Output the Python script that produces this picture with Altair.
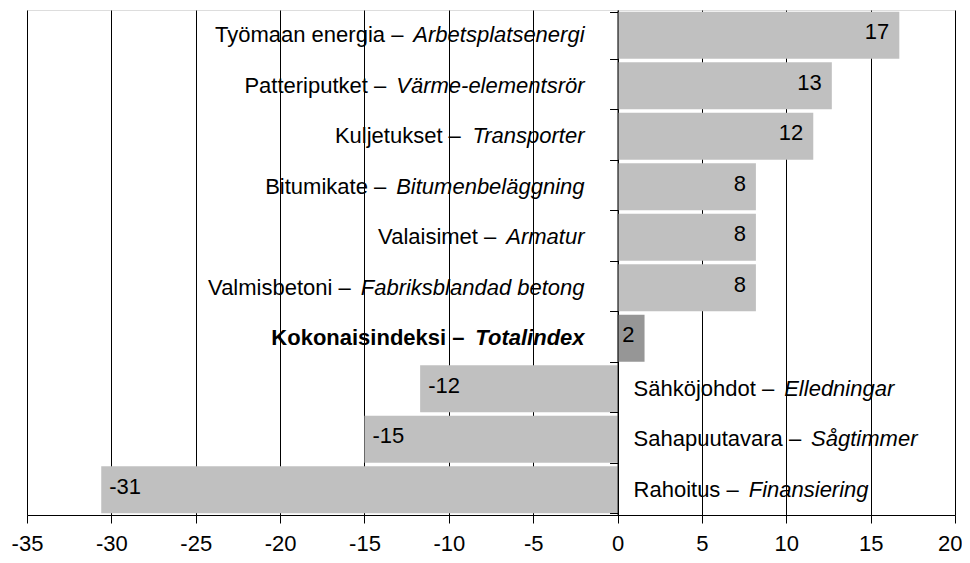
import altair as alt
import pandas as pd

# ---- data ----
fin = ["Työmaan energia", "Patteriputket", "Kuljetukset", "Bitumikate", "Valaisimet",
       "Valmisbetoni", "Kokonaisindeksi", "Sähköjohdot", "Sahapuutavara", "Rahoitus"]
swe = ["Arbetsplatsenergi", "Värme-elementsrör", "Transporter", "Bitumenbeläggning", "Armatur",
       "Fabriksblandad betong", "Totalindex", "Elledningar", "Sågtimmer", "Finansiering"]
values = [16.7, 12.7, 11.6, 8.2, 8.2, 8.2, 1.6, -11.7, -15.0, -30.6]
x_ticks = [-35, -30, -25, -20, -15, -10, -5, 0, 5, 10, 15, 20]

FS = 22
FONT = "Liberation Sans"
W, H = 928, 505

# Arial / Liberation Sans advance widths (1/1000 em) for measuring labels
REG = {" ": 278, "-": 333, "–": 556,
       "A": 667, "B": 667, "E": 667, "F": 611, "K": 667, "P": 667, "R": 722, "S": 667, "T": 611, "V": 667,
       "a": 556, "b": 556, "c": 500, "d": 556, "e": 556, "f": 278, "g": 556, "h": 556, "i": 222, "j": 222,
       "k": 500, "l": 222, "m": 833, "n": 556, "o": 556, "p": 556, "q": 556, "r": 333, "s": 500, "t": 278,
       "u": 556, "v": 500, "w": 722, "x": 500, "y": 500, "z": 500, "ä": 556, "ö": 556, "å": 556}
BOLD = dict(REG)
BOLD.update({"K": 722, "T": 611, "a": 556, "b": 611, "c": 556, "d": 611, "e": 556, "f": 333, "g": 611,
             "h": 611, "i": 278, "j": 278, "k": 556, "l": 278, "m": 889, "n": 611, "o": 611, "p": 611,
             "q": 611, "r": 389, "s": 556, "t": 333, "u": 611, "v": 556, "w": 778, "x": 556, "y": 556,
             "z": 500})


def tw(s, bold=False):
    t = BOLD if bold else REG
    return sum(t.get(c, 556) for c in s) * FS / 1000.0


LEFT_ANCHOR = -33   # px from zero line for labels of positive bars (right aligned)
RIGHT_ANCHOR = 16   # px from zero line for labels of negative bars (left aligned)
GAP = 10

rows = []
for f, s, v in zip(fin, swe, values):
    bold = f == "Kokonaisindeksi"
    p1 = f + " –"
    if v >= 0:
        off_swe = LEFT_ANCHOR
        off_fin = LEFT_ANCHOR - tw(s, bold) - GAP
        al = "right"
    else:
        off_fin = RIGHT_ANCHOR
        off_swe = RIGHT_ANCHOR + tw(p1, bold) + GAP
        al = "left"
    rows.append(dict(cat=f, part1=p1, swe=s, value=v, bold=bold,
                     kind="total" if bold else "item",
                     off_fin=off_fin, off_swe=off_swe, al=al))
df = pd.DataFrame(rows)

yenc = alt.Y("cat:N", sort=fin,
             scale=alt.Scale(paddingInner=0.07, paddingOuter=0.035),
             axis=alt.Axis(title=None, labels=False, grid=False, orient="left",
                           offset=-(W * 35 / 55), domainColor="#000000", domainWidth=1,
                           tickColor="#000000", tickSize=8, tickBand="extent", zindex=2))
xscale = alt.Scale(domain=[-35, 20], nice=False, zero=False)

base = alt.Chart(df)

bars = base.mark_bar(strokeWidth=0).encode(
    x=alt.X("value:Q", scale=xscale,
            axis=alt.Axis(title=None, values=x_ticks, grid=True, gridColor="#000000", gridWidth=1,
                          gridOpacity=1, domainColor="#000000", tickColor="#000000", tickSize=8,
                          labelFont=FONT, labelFontSize=FS, labelColor="#000000", labelPadding=10,
                          labelExpr="'' + datum.value", labelFlush=False,
                          labelAlign={"expr": "datum.value == 20 ? 'right' : 'center'"},
                          labelOffset={"expr": "datum.value == 20 ? 7 : 0"})),
    y=yenc,
    fill=alt.Fill("kind:N", scale=alt.Scale(domain=["item", "total"], range=["#c0c0c0", "#969696"]),
                  legend=None),
)

numbers = base.mark_text(
    font=FONT, fontSize=FS, color="#000000", baseline="middle", dy=-3,
    align={"expr": "datum.value >= 0 ? 'right' : 'left'"},
    dx={"expr": "datum.value >= 0 ? -10 : 8"},
).transform_calculate(lab="'' + round(datum.value)").encode(
    x=alt.X("value:Q", scale=xscale), y=alt.Y("cat:N", sort=fin), text="lab:N")

fin_text = base.transform_calculate(zero="0").mark_text(
    font=FONT, fontSize=FS, color="#000000", baseline="middle",
    align={"expr": "datum.al"}, dx={"expr": "datum.off_fin"},
    fontWeight={"expr": "datum.bold ? 'bold' : 'normal'"},
).encode(x=alt.X("zero:Q", scale=xscale), y=alt.Y("cat:N", sort=fin), text="part1:N")

swe_text = base.transform_calculate(zero="0").mark_text(
    font=FONT, fontSize=FS, color="#000000", baseline="middle", fontStyle="italic",
    align={"expr": "datum.al"}, dx={"expr": "datum.off_swe"},
    fontWeight={"expr": "datum.bold ? 'bold' : 'normal'"},
).encode(x=alt.X("zero:Q", scale=xscale), y=alt.Y("cat:N", sort=fin), text="swe:N")

chart = alt.layer(bars, numbers, fin_text, swe_text).properties(
    width=W, height=H,
    padding={"left": 19, "top": 2, "right": 7, "bottom": 40},
    autosize=alt.AutoSizeParams(type="none"),
).configure_view(stroke="#808080", strokeWidth=2).configure(background="#ffffff")

chart.save("out.html", embed_options={"renderer": "svg", "actions": False})
